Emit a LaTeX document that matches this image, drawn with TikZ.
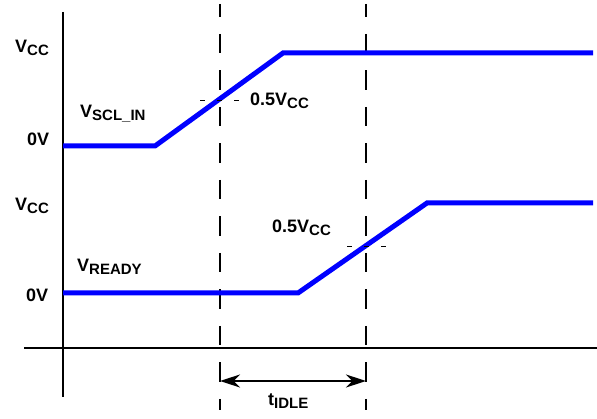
\documentclass[tikz,border=0pt]{standalone}
\usepackage{fontspec}
\setmainfont{Liberation Sans}
\usetikzlibrary{arrows.meta,positioning,calc}
\newcommand{\lowsub}[2]{#1\raisebox{-3pt}{\fontsize{15}{17}\selectfont #2}}

\begin{document}
\begin{tikzpicture}[x=1pt,y=-1pt,
    lbl/.style={anchor=base west, inner sep=0pt, font=\bfseries\fontsize{18}{20}\selectfont},
    wave/.style={line width=5pt, blue},
    guide/.style={line width=2.2pt, dash pattern=on 19.5pt off 17pt, dash phase=6.5pt},
    halfway/.style={line width=0.8pt, dash pattern=on 5pt off 12pt}]
               \useasboundingbox (0,0) rectangle (597,419);
               \draw[line width=2pt] (63,12)--(63,397);
               \draw[line width=2pt] (24,348)--(597,348);
               \coordinate (ta) at (220,381);
               \coordinate (tb) at (366,381);
               \draw[guide] (220,4)--(220,410);
               \draw[guide] (366,4)--(366,410);
               \draw[wave] (63,146)--(155,146)--(283,53)--(593,53);
               \draw[wave] (63,293)--(298,293)--(427,203)--(593,203);
               \draw[halfway] (200,100)--(240,100);
               \draw[halfway] (347,246)--(387,246);
               \draw[{Stealth[length=20pt,width=13pt]}-{Stealth[length=20pt,width=13pt]}, line width=2pt] (ta)--(tb);
               \node[lbl] (vcca) at (15,53) {\lowsub{V}{CC}};
               \node[lbl] (zeroa) at (27,146) {0V};
               \node[lbl] (vccb) at (15,211) {\lowsub{V}{CC}};
               \node[lbl] (zerob) at (26,302) {0V};
               \node[lbl] (scl) at (80,118) {\lowsub{V}{SCL\_IN}};
               \node[lbl] (halfa) at (250,106) {0.5\lowsub{V}{CC}};
               \node[lbl] (ready) at (77,272) {\lowsub{V}{READY}};
               \node[lbl] (halfb) at (272,233) {0.5\lowsub{V}{CC}};
               \node[lbl] (idle) at (268,406) {\lowsub{t}{IDLE}};
          \end{tikzpicture}
\end{document}
